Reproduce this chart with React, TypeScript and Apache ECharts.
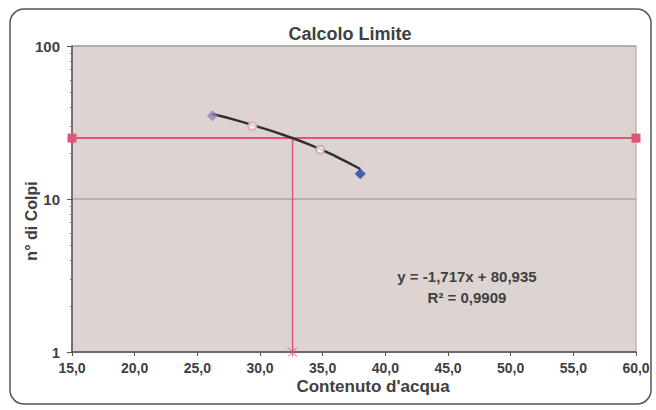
import React, { useEffect, useRef } from "react";
import * as echarts from "echarts";

const titleText = "Calcolo Limite";
const xAxisName = "Contenuto d'acqua";
const yAxisName = "n° di Colpi";

// measured points (x = water content, y = blows)
const pointsX = [26.2, 29.4, 34.8, 38.0];
const pointsY = [35, 30, 21, 14.6];

// trend line read along its course
const trendX = [26.2, 28.0, 30.0, 32.0, 34.0, 36.0, 38.0];
const trendY = [35.9, 32.9, 29.4, 26.0, 22.6, 19.1, 15.7];

// limit line at 25 blows
const limitX = [15, 60];
const limitY = [25, 25];

// vertical drop to x axis
const dropX = [32.6, 32.6];
const dropY = [25, 1];

const equationText = "y = -1,717x + 80,935";
const r2Text = "R² = 0,9909";

const FONT = "'Liberation Sans', Arial, sans-serif";
const TEXT = "#404040";
const PINK = "#e2557a";

export default function App() {
  const ref = useRef<HTMLDivElement>(null);
  useEffect(() => {
    if (!ref.current) return;
    const chart = echarts.init(ref.current, undefined, { renderer: "svg" });
    const pointStyles = [
      { symbol: "diamond", symbolSize: 11, itemStyle: { color: "#8a7fb0", opacity: 0.75 } },
      { symbol: "emptyCircle", symbolSize: 8, itemStyle: { color: "#e8a0b0", borderColor: PINK, borderWidth: 1.2 } },
      { symbol: "emptyCircle", symbolSize: 8, itemStyle: { color: "#c8a0a8", borderColor: PINK, borderWidth: 1.2 } },
      { symbol: "diamond", symbolSize: 11, itemStyle: { color: "#2040a8" } },
    ];
    chart.setOption({
      animation: false,
      backgroundColor: "#ffffff",
      textStyle: { fontFamily: FONT },
      title: {
        text: titleText,
        left: 345,
        textAlign: "center",
        top: 20,
        textStyle: { fontFamily: FONT, fontWeight: "bold", fontSize: 18, color: TEXT },
      },
      grid: {
        left: 72,
        right: 20,
        top: 46,
        bottom: 58,
        show: true,
        backgroundColor: "#ddd4d1",
        borderColor: "#a8a4a2",
        borderWidth: 1,
      },
      xAxis: {
        type: "value",
        min: 15,
        max: 60,
        interval: 5,
        name: xAxisName,
        nameLocation: "middle",
        nameGap: 26,
        nameMoveOverlap: false,
        nameTextStyle: {
          fontFamily: FONT,
          fontWeight: "bold",
          fontSize: 17,
          color: TEXT,
          verticalAlign: "top",
          padding: [0, 0, 0, 38],
        },
        axisLine: { show: true, onZero: false, lineStyle: { color: "#555", width: 1.5 } },
        axisTick: { show: true, length: 4, lineStyle: { color: "#555" } },
        axisLabel: {
          fontFamily: FONT,
          fontWeight: "bold",
          fontSize: 14,
          color: TEXT,
          margin: 9,
          formatter: (v: number) => v.toFixed(1).replace(".", ","),
        },
        splitLine: { show: false },
      },
      yAxis: {
        type: "log",
        logBase: 10,
        min: 1,
        max: 100,
        name: yAxisName,
        nameLocation: "middle",
        nameGap: 33,
        nameMoveOverlap: false,
        nameTextStyle: {
          fontFamily: FONT,
          fontWeight: "bold",
          fontSize: 16,
          color: TEXT,
          padding: [0, 44, 0, 0],
        },
        axisLine: { show: true, lineStyle: { color: "#555", width: 1.5 } },
        axisTick: { show: true, length: 5, inside: false, lineStyle: { color: "#555" } },
        minorTick: { show: true, splitNumber: 9, length: 2, lineStyle: { color: "#777" } },
        axisLabel: {
          fontFamily: FONT,
          fontWeight: "bold",
          fontSize: 15,
          color: TEXT,
          margin: 12,
        },
        splitLine: { show: true, lineStyle: { color: "#a8a4a2", width: 1.5 } },
      },
      series: [
        {
          type: "line",
          data: limitX.map((x, i) => [x, limitY[i]]),
          symbol: "rect",
          symbolSize: 9,
          lineStyle: { color: PINK, width: 2 },
          itemStyle: { color: PINK },
          z: 3,
        },
        {
          type: "line",
          data: [
            { value: [dropX[0], dropY[0]], symbol: "none" },
            { value: [dropX[1], dropY[1]], symbol: "path://M0,0L10,10M10,0L0,10M5,0L5,10", symbolSize: 9 },
          ],
          lineStyle: { color: PINK, width: 1.5 },
          itemStyle: { color: "none", borderColor: PINK, borderWidth: 1 },
          z: 3,
        },
        {
          type: "line",
          data: trendX.map((x, i) => [x, trendY[i]]),
          smooth: true,
          symbol: "none",
          lineStyle: { color: "#303030", width: 2.5 },
          z: 4,
        },
        {
          type: "scatter",
          data: pointsX.map((x, i) => ({ value: [x, pointsY[i]], ...pointStyles[i] })),
          z: 5,
        },
      ],
      graphic: [
        {
          type: "rect",
          shape: { x: 10, y: 9, width: 641, height: 395, r: 14 },
          style: { fill: "none", stroke: "#555", lineWidth: 1.5 },
          silent: true,
          z: 100,
        },
        {
          type: "text",
          x: 467,
          y: 276,
          style: {
            text: equationText,
            fontFamily: FONT,
            fontWeight: "bold",
            fontSize: 15,
            fill: TEXT,
            align: "center",
            verticalAlign: "middle",
          },
          z: 50,
        },
        {
          type: "text",
          x: 467,
          y: 297,
          style: {
            text: r2Text,
            fontFamily: FONT,
            fontWeight: "bold",
            fontSize: 15,
            fill: TEXT,
            align: "center",
            verticalAlign: "middle",
          },
          z: 50,
        },
      ],
    });
    return () => chart.dispose();
  }, []);
  return (
    <div
      ref={ref}
      style={{ position: "fixed", left: 0, top: 0, width: 656, height: 410 }}
    />
  );
}
